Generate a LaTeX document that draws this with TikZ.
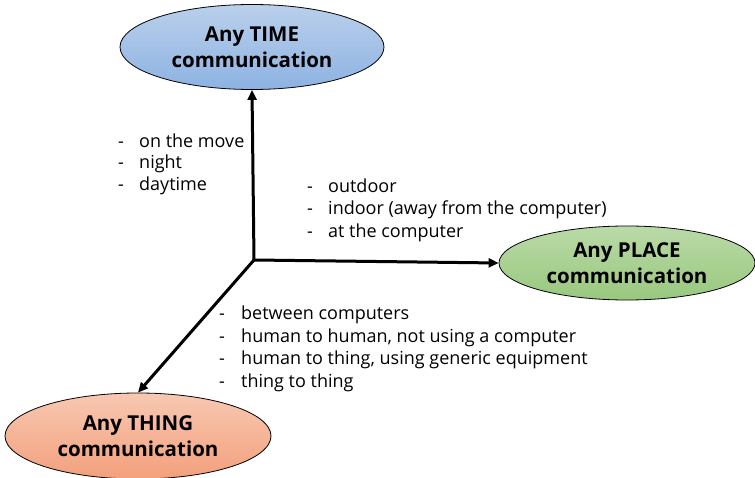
\documentclass[tikz,border=0pt]{standalone}
\usepackage{fontspec}
\setmainfont{Open Sans}
\usetikzlibrary{arrows.meta,shapes.geometric,shadings}
\begin{document}
\begin{tikzpicture}[x=1pt,y=-1pt,
  oval/.style={ellipse,draw=black,line width=0.8pt,inner sep=0pt,align=center,
    font=\bfseries\fontsize{20.5}{26}\selectfont},
  axis/.style={line width=3pt,-{Triangle[length=10pt,width=9pt]}},
  item/.style={anchor=mid west,inner sep=0pt,yshift=-4pt,font=\fontsize{18}{20}\selectfont},
  dashmark/.style={anchor=mid west,inner sep=0pt,yshift=-4pt,font=\fontsize{18}{20}\selectfont}
]
\useasboundingbox (0,0) rectangle (755,478);
\node[oval,minimum width=264pt,minimum height=85pt,top color={rgb,255:red,186;green,208;blue,235},bottom color={rgb,255:red,141;green,178;blue,226}] (time) at (252,47) {\raisebox{-2pt}{Any TIME}\\\raisebox{-2pt}{communication}};
\node[oval,minimum width=256pt,minimum height=74pt,top color={rgb,255:red,186;green,218;blue,168},bottom color={rgb,255:red,153;green,200;blue,126}] (place) at (627,263) {Any PLACE\\communication};
\node[oval,minimum width=266pt,minimum height=86pt,top color={rgb,255:red,248;green,200;blue,178},bottom color={rgb,255:red,243;green,160;blue,124}] (thing) at (138,436) {Any THING\\communication};
\coordinate (o) at (254,260);
\draw[axis] (o) -- (time.south);
\draw[axis] (o) -- (place.west);
\draw[axis] (o) -- (thing.north);
% time list
\node[dashmark] (td1) at (118,141) {-};
\node[item] (t1) at (139,141) {on the move};
\node[dashmark] (td2) at (118,162) {-};
\node[item] (t2) at (139,162) {night};
\node[dashmark] (td3) at (118,184) {-};
\node[item] (t3) at (139,184) {daytime};
% place list
\node[dashmark] (pd1) at (307,186) {-};
\node[item] (p1) at (328,186) {outdoor};
\node[dashmark] (pd2) at (307,208) {-};
\node[item] (p2) at (328,208) {indoor (away from the computer)};
\node[dashmark] (pd3) at (307,231) {-};
\node[item] (p3) at (328,231) {at the computer};
% thing list
\node[dashmark] (hd1) at (219,313) {-};
\node[item] (h1) at (241,313) {between computers};
\node[dashmark] (hd2) at (219,336) {-};
\node[item] (h2) at (241,336) {human to human, not using a computer};
\node[dashmark] (hd3) at (219,358) {-};
\node[item] (h3) at (241,358) {human to thing, using generic equipment};
\node[dashmark] (hd4) at (219,381) {-};
\node[item] (h4) at (241,381) {thing to thing};
\end{tikzpicture}
\end{document}
